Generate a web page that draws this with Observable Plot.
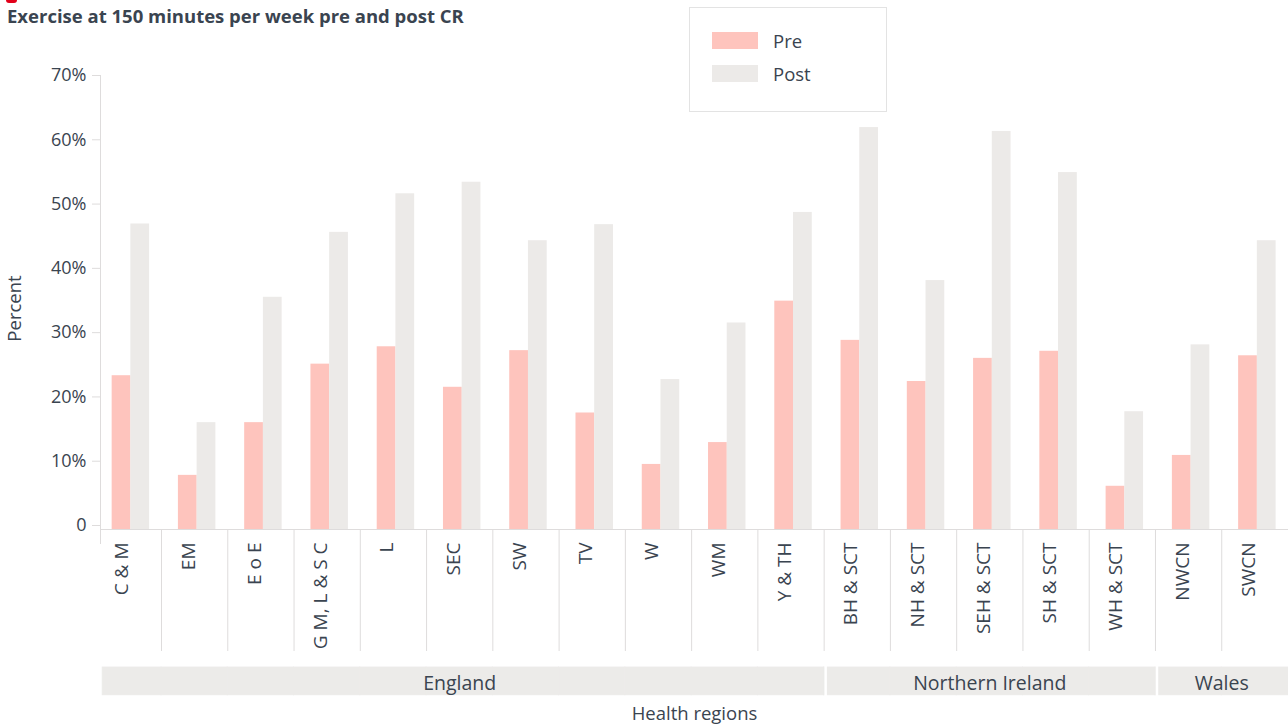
<!DOCTYPE html>
<html>
<head>
<meta charset="utf-8">
<script src="https://cdn.jsdelivr.net/npm/d3@7"></script>
<script src="https://cdn.jsdelivr.net/npm/@observablehq/plot@0.6"></script>
<style>
  html, body { margin: 0; padding: 0; background: #fff; overflow: hidden; }
  body { font-family: "Open Sans", sans-serif; color: #3a4450; }
  #wrap { position: relative; width: 1288px; height: 727px; }
  #chart { position: absolute; left: 0; top: 0; }
  #mark { position: absolute; left: 6px; top: 0; width: 11px; height: 3px; background: #e2001a; border-radius: 0 0 4px 4px; }
  #title { position: absolute; left: 7px; top: 3px; font-weight: 700; font-size: 18.5px; white-space: nowrap; color: #3a4450; }
  #legend { position: absolute; left: 689px; top: 7px; width: 196px; height: 103px; border: 1px solid #e3e3e3; background: #fff; }
  .li { position: absolute; left: 22px; height: 20px; display: flex; align-items: center; font-size: 18.5px; }
  .sw { width: 46px; height: 17px; margin-right: 15px; }
</style>
</head>
<body>
<div id="wrap">
  <div id="chart"></div>
  <div id="mark"></div>
  <div id="title">Exercise at 150 minutes per week pre and post CR</div>
  <div id="legend"></div>
</div>
<script>
// ---- data ----
const categories = ["C & M","EM","E o E","G M, L & S C","L","SEC","SW","TV","W","WM","Y & TH",
                    "BH & SCT","NH & SCT","SEH & SCT","SH & SCT","WH & SCT","NWCN","SWCN"];
const preValues  = [23.3, 7.8, 16.0, 25.1, 27.8, 21.5, 27.2, 17.5, 9.5, 12.9, 34.9,
                    28.8, 22.4, 26.0, 27.1, 6.1, 10.9, 26.4];
const postValues = [46.9, 16.0, 35.5, 45.6, 51.6, 53.4, 44.3, 46.8, 22.7, 31.5, 48.7,
                    61.9, 38.1, 61.3, 54.9, 17.7, 28.1, 44.3];
const groupNames = ["England", "Northern Ireland", "Wales"];
const groupSizes = [11, 5, 2];
const seriesNames = ["Pre", "Post"];
const yTicks = [0, 10, 20, 30, 40, 50, 60, 70];

const colors = { Pre: "#fec4bd", Post: "#eceae8" };
const stripColor = "#ecebe9";
const textColor = "#3a4450";
const lineColor = "#dedcdc";

// ---- derived tables ----
const groupOf = [];
groupNames.forEach((g, gi) => { for (let k = 0; k < groupSizes[gi]; k++) groupOf.push(g); });
const rows = categories.map((c, i) => ({ region: c, group: groupOf[i], pre: preValues[i], post: postValues[i] }));

const groupStarts = [];
groupSizes.reduce((s, n) => { groupStarts.push(s); return s + n; }, 0);

const xRange = [94.75, 1287.5];
const bw = (xRange[1] - xRange[0]) / categories.length;

const groupLabels = groupNames.map((g, gi) => {
  const mid = groupStarts[gi] + (groupSizes[gi] - 1) / 2;
  const idx = Math.floor(mid);
  return { name: g, region: categories[idx], dx: (mid - idx) * bw };
});
const groupBoundaries = groupStarts.slice(1).map(i => categories[i]);

// ---- chart ----
const marks = [
  // y axis line
  Plot.frame({ anchor: "left", stroke: lineColor, insetBottom: -18 }),
  Plot.axisY({ ticks: yTicks, tickFormat: d => d === 0 ? "0" : d + "%", tickSize: 8, tickPadding: 6, fontSize: 18, label: null }),
  // category separators
  Plot.ruleX(categories.slice(1), { x: d => d, dx: -bw / 2, stroke: lineColor, insetTop: 454, insetBottom: -126 }),
  // bars
  Plot.barY(rows, { x: "region", y: "pre", fill: colors.Pre, insetLeft: 16.9, insetRight: 30.6, insetBottom: -4 }),
  Plot.barY(rows, { x: "region", y: "post", fill: colors.Post, insetLeft: 35.6, insetRight: 11.9, insetBottom: -4 }),
  // baseline
  Plot.ruleY([0], { stroke: lineColor, dy: 4 }),
  // group strips
  Plot.barY(rows.slice(1), { x: "region", y1: () => -22.1, y2: () => -26.4, fill: stripColor, stroke: stripColor, strokeWidth: 1 }),
  Plot.barY(rows.slice(0, 1), { x: "region", y1: () => -22.1, y2: () => -26.4, fill: stripColor, stroke: stripColor, strokeWidth: 1, insetLeft: 7.5 }),
  Plot.ruleX(groupBoundaries, { x: d => d, dx: -bw / 2 + 1.5, y1: () => -21.5, y2: () => -27, stroke: "#fff", strokeWidth: 2.5 }),
  // group labels
  ...groupLabels.map(gl => Plot.text([gl], { x: "region", text: "name", dx: gl.dx, frameAnchor: "bottom", dy: 164, fontSize: 19.5, fill: textColor })),
  // x tick labels
  Plot.text(categories, { x: d => d, text: d => d, frameAnchor: "bottom", dy: 17, rotate: -90, textAnchor: "end", fontSize: 19, fill: textColor }),
  // axis titles
  Plot.text(["Percent"], { frameAnchor: "left", textAnchor: "middle", dx: -85, dy: 8, rotate: -90, fontSize: 18.5, fill: textColor }),
  Plot.text(["Health regions"], { frameAnchor: "bottom", dy: 194, fontSize: 18.5, fill: textColor })
];

const chart = Plot.plot({
  width: 1288,
  height: 727,
  marginTop: 75,
  marginBottom: 202,
  marginLeft: 100,
  marginRight: 0,
  style: { fontFamily: "Open Sans", fontSize: "18px", color: textColor, background: "transparent", overflow: "visible" },
  x: { type: "band", domain: categories, range: xRange, padding: 0, round: false, axis: null },
  y: { domain: [0, 70], axis: null },
  marks
});
d3.select(chart).selectAll('[aria-label="y-axis tick"] path').attr("stroke", lineColor);
document.getElementById("chart").appendChild(chart);

// legend
const legend = document.getElementById("legend");
seriesNames.forEach((s, i) => {
  const item = document.createElement("div");
  item.className = "li";
  item.style.top = (22 + i * 33) + "px";
  item.innerHTML = `<span class="sw" style="background:${colors[s]}"></span><span>${s}</span>`;
  legend.appendChild(item);
});
</script>
</body>
</html>
